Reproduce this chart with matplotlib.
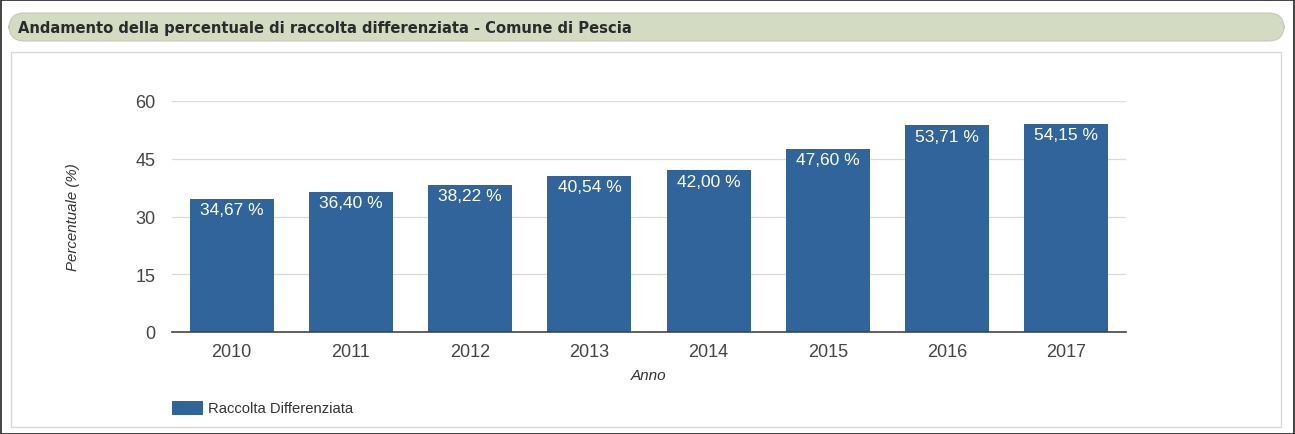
import matplotlib
matplotlib.use("Agg")
import matplotlib.pyplot as plt
from matplotlib.patches import FancyBboxPatch, Rectangle

years = ["2010", "2011", "2012", "2013", "2014", "2015", "2016", "2017"]
values = [34.67, 36.40, 38.22, 40.54, 42.00, 47.60, 53.71, 54.15]
yticks = [0, 15, 30, 45, 60]
title = "Andamento della percentuale di raccolta differenziata - Comune di Pescia"
series_name = "Raccolta Differenziata"
bar_color = "#31649a"

W, H = 1295, 435
fig = plt.figure(figsize=(W / 100, H / 100), dpi=100)
fig.patch.set_facecolor("white")

# outer frame
fig.add_artist(Rectangle((0.5 / W, 0.5 / H), 1 - 1.5 / W, 1 - 1.5 / H, transform=fig.transFigure,
                         fill=False, edgecolor="#222222", linewidth=1.2))
# header bar
fig.add_artist(FancyBboxPatch((9 / W, 1 - 42 / H), (1284 - 9) / W, 28 / H,
                              boxstyle="round,pad=0,rounding_size=0.012",
                              transform=fig.transFigure, facecolor="#d3dbc3", edgecolor="#c3cbb3", linewidth=0.8,
                              mutation_aspect=W / H))
fig.text(18 / W, 1 - 29 / H, title, fontsize=10.6, fontweight="bold", color="#2b2b2b",
         family="DejaVu Sans", va="center", ha="left")
# panel
fig.add_artist(Rectangle((11 / W, 1 - 428 / H), (1281 - 11) / W, (428 - 53) / H, transform=fig.transFigure,
                         fill=False, edgecolor="#d8d8d8", linewidth=1.0))

plt.rcParams['font.family'] = ['Liberation Sans', 'DejaVu Sans']

x0, x1 = 172, 1126
y0, y1 = 333, 102
ax = fig.add_axes([x0 / W, 1 - y0 / H, (x1 - x0) / W, (y0 - y1) / H])
xs = list(range(len(years)))
ax.bar(xs, values, width=0.705, color=bar_color, zorder=3)
ax.set_xlim(-0.5, len(years) - 0.5)
ax.set_ylim(0, 60)
ax.set_yticks(yticks)
ax.set_yticklabels([str(t) for t in yticks])
ax.set_xticks(xs)
ax.set_xticklabels(years)
for s in ["top", "right", "left"]:
    ax.spines[s].set_visible(False)
ax.spines["bottom"].set_color("#444444")
ax.spines["bottom"].set_linewidth(1.2)
ax.spines["bottom"].set_zorder(4)
ax.grid(axis="y", color="#d9d9d9", linewidth=0.9, zorder=0)
ax.tick_params(axis="both", length=0, labelsize=13, labelcolor="#444444")
ax.tick_params(axis="y", pad=12)
ax.tick_params(axis="x", pad=8)
ax.set_ylabel("Percentuale (%)", fontsize=10.8, style="italic", color="#333333", labelpad=40)
ax.set_xlabel("Anno", fontsize=11, style="italic", color="#333333", labelpad=6)

for x, v in zip(xs, values):
    ax.annotate(f"{v:.2f} %".replace(".", ","), (x, v), xytext=(0, -2.5), textcoords="offset points",
                ha="center", va="top", color="white", fontsize=12.5, zorder=5)

# legend
fig.add_artist(Rectangle((172 / W, 1 - 416 / H), 31 / W, 14 / H, transform=fig.transFigure,
                         facecolor=bar_color, edgecolor="none"))
fig.text(208 / W, 1 - 409 / H, series_name, fontsize=10.6, color="#333333", va="center", ha="left")

fig.savefig("out.png", dpi=100)
